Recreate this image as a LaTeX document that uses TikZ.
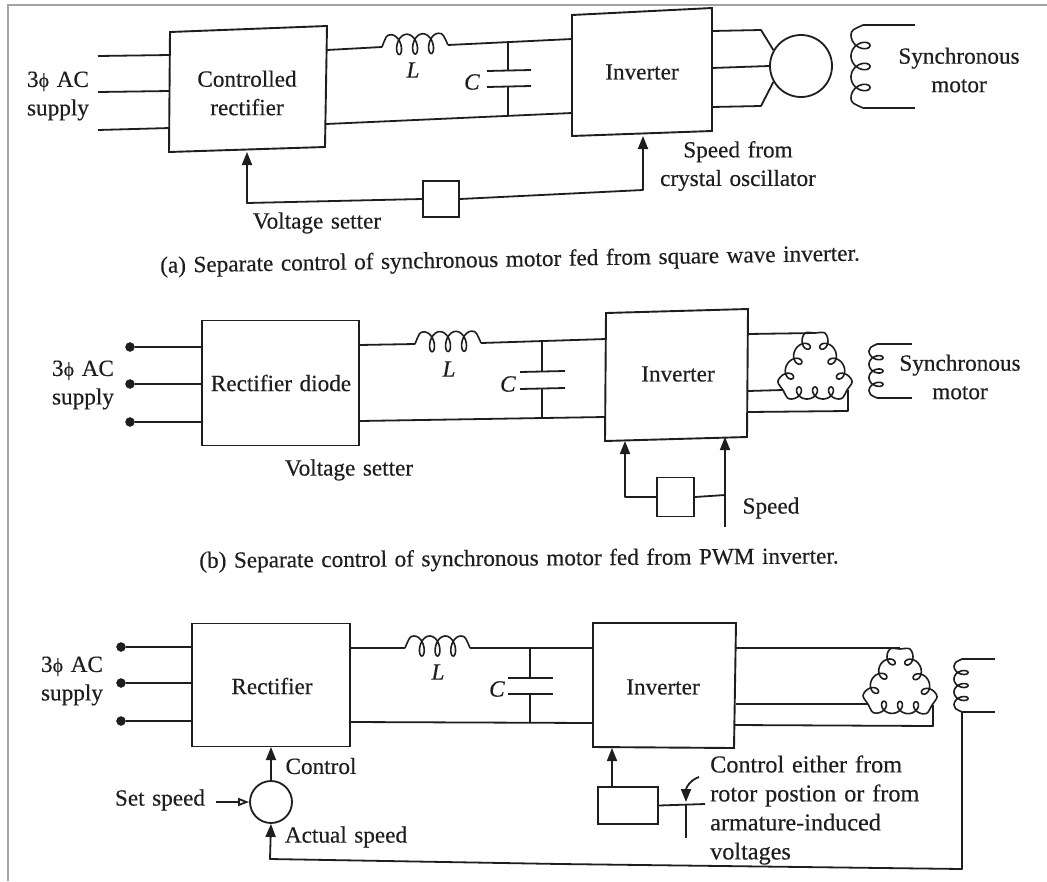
\documentclass[tikz,border=0pt]{standalone}
\usepackage{fontspec}
\setmainfont[WordSpace=1.3,FakeBold=0.35]{Liberation Serif}
\usetikzlibrary{arrows.meta,calc}
\definecolor{ink}{HTML}{1E1E1E}
\definecolor{framegray}{HTML}{A3A3A3}
\tikzset{
  wire/.style={draw=ink,line width=1.8pt,line join=round},
  boxline/.style={draw=ink,line width=1.9pt,line join=miter,fill=white},
  blk/.style={boxline,rectangle,inner sep=0pt},
  lbl/.style={text=ink,inner sep=0pt,font=\fontsize{23.2}{28.5}\selectfont,align=center},
  terminal/.style={circle,fill=ink,draw=ink,inner sep=0pt,minimum size=9pt},
  sumring/.style={circle,draw=ink,line width=1.8pt,inner sep=0pt,fill=white},
  tip/.style={-{Triangle[length=13pt,width=10pt]}},
  opentip/.style={-{Triangle[open,length=11pt,width=8pt,fill=white]}}
}
% \coilwire x1 y1 x2 y2 loops arch depth inset
\newcommand{\coilwire}[8]{%
  \pgfmathsetmacro{\cang}{atan2(-((#4)-(#2)),(#3)-(#1))}%
  \pgfmathsetmacro{\clen}{veclen((#3)-(#1),(#4)-(#2))}%
  \pgfmathsetmacro{\ca}{(\clen-2*(#8))/(2*pi*(#5))}%
  \pgfmathsetmacro{\cb}{2.3*\ca}%
  \pgfmathsetmacro{\cend}{2*pi*(#5)}%
  \pgfmathsetmacro{\cm}{((#6)-(#7))/2}%
  \pgfmathsetmacro{\cq}{((#6)+(#7))/2}%
  \begin{scope}[shift={(#1,#2)},rotate=\cang,x=1pt,y=1pt]
    \draw[wire,line width=1.6pt] (0,0) .. controls ({0.45*(#8)},{0.8*(#6)}) and ({0.5*(#8)},{#6}) .. ({#8},{#6})
      -- plot[domain=0:\cend,samples=120,variable=\u] ({(#8)+\ca*\u+\cb*sin(\u r)},{\cm+\cq*cos(\u r)})
      .. controls ({\clen-0.5*(#8)},{#6}) and ({\clen-0.45*(#8)},{0.8*(#6)}) .. (\clen,0);
  \end{scope}}
\newcommand{\threephase}{3{\fontsize{20}{20}\selectfont\char"03D5} AC}
\begin{document}
\begin{tikzpicture}[x=1pt,y=-1pt]
\useasboundingbox (0,0) rectangle (1047,881);
\fill[white] (0,0) rectangle (1047,881);
% page frame
\coordinate (fa) at (8,881); \coordinate (fb) at (8,5); \coordinate (fc) at (1047,5);
\draw[framegray,line width=2pt] (fa) -- (fb) -- (fc);

% ---------- (a) ----------
\coordinate (a1) at (170,32); \coordinate (a2) at (327,26); \coordinate (a3) at (325,147); \coordinate (a4) at (169,152);
\draw[boxline] (a1) -- (a2) -- (a3) -- (a4) -- cycle;
\node[lbl] (arect) at (247,93) {Controlled\\rectifier};
\coordinate (b1) at (572,15); \coordinate (b2) at (712,8); \coordinate (b3) at (712,131); \coordinate (b4) at (572,136);
\draw[boxline] (b1) -- (b2) -- (b3) -- (b4) -- cycle;
\node[lbl] (ainv) at (642,72) {Inverter};
\foreach \n/\xa/\ya/\yb in {1/98/56/55,2/98/92/91,3/98/130/128}{
  \coordinate (ai\n) at (\xa,\ya); \coordinate (aj\n) at (170,\yb);
  \draw[wire] (ai\n) -- (aj\n);}
\node[lbl] (asup) at (58,96) {\threephase\\supply};
\coordinate (aL0) at (327,50); \coordinate (aL1) at (382,47); \coordinate (aL2) at (448,45); \coordinate (aL3) at (572,39);
\draw[wire] (aL0) -- (aL1); \draw[wire] (aL2) -- (aL3);
\coilwire{382}{47}{448}{45}{3}{12}{8}{9}
\node[lbl] (aLl) at (413,70) {\textit{L}};
\coordinate (aB0) at (326,124); \coordinate (aB1) at (572,113);
\draw[wire] (aB0) -- (aB1);
\coordinate (aC0) at (508,42); \coordinate (aC1) at (508,71); \coordinate (aC2) at (508,87); \coordinate (aC3) at (508,116);
\draw[wire] (aC0) -- (aC1); \draw[wire] (aC2) -- (aC3);
\coordinate (aP1) at (487,71); \coordinate (aP2) at (531,70); \coordinate (aP3) at (487,87); \coordinate (aP4) at (531,86);
\draw[wire] (aP1) -- (aP2); \draw[wire] (aP3) -- (aP4);
\node[lbl] (aCl) at (472,82) {\textit{C}};
\node[blk,minimum width=36pt,minimum height=36pt] (aset) at (441,199) {};
\coordinate (afa) at (247,152); \coordinate (afb) at (247,203); \coordinate (afc) at (643,190); \coordinate (afd) at (643,136);
\draw[wire,tip] (aset.west) -- (afb) -- (afa);
\draw[wire,tip] (aset.east) -- (afc) -- (afd);
\node[lbl] (avs) at (317,223) {Voltage setter};
\node[lbl] (asp) at (738,166) {Speed from\\crystal oscillator};
\node[sumring,minimum size=62pt] (amot) at (801,66) {};
\coordinate (am1) at (712,31); \coordinate (am1b) at (761,30);
\coordinate (am2) at (712,68);
\coordinate (am3) at (712,107); \coordinate (am3b) at (761,106);
\draw[wire] (am1) -- (am1b) -- (amot.150);
\draw[wire] (am2) -- (amot.west);
\draw[wire] (am3) -- (am3b) -- (amot.210);
\coilwire{863}{108}{863}{25}{3}{12}{7}{10}
\coordinate (ac1) at (863,25); \coordinate (ac2) at (915,25); \coordinate (ac3) at (863,108); \coordinate (ac4) at (915,108);
\draw[wire] (ac1) -- (ac2); \draw[wire] (ac3) -- (ac4);
\node[lbl] (asm) at (959,70) {Synchronous\\motor};
\node[lbl,rotate=1] (acap) at (510,261) {(a) Separate control of synchronous motor fed from square wave inverter.};

% ---------- (b) ----------
\node[blk,minimum width=157pt,minimum height=125pt] (brect) at (280.5,383) {};
\node[lbl] (brl) at (281,383) {Rectifier diode};
\coordinate (i1) at (606,313); \coordinate (i2) at (748,309); \coordinate (i3) at (747,437); \coordinate (i4) at (605,441);
\draw[boxline] (i1) -- (i2) -- (i3) -- (i4) -- cycle;
\node[lbl] (binv) at (678,374) {Inverter};
\foreach \n/\yy in {1/347,2/384,3/422}{
  \node[terminal] (bt\n) at (130,\yy) {};
  \coordinate (bj\n) at (202,\yy);
  \draw[wire] (bt\n) -- (bj\n);}
\node[lbl] (bsup) at (83,385) {\threephase\\supply};
\coordinate (bL0) at (359,345); \coordinate (bL1) at (415,344); \coordinate (bL2) at (481,343); \coordinate (bL3) at (606,339);
\draw[wire] (bL0) -- (bL1); \draw[wire] (bL2) -- (bL3);
\coilwire{415}{344}{481}{343}{3}{12}{8}{9}
\node[lbl] (bLl) at (449,369) {\textit{L}};
\coordinate (bB0) at (360,421); \coordinate (bB1) at (605,417);
\draw[wire] (bB0) -- (bB1);
\coordinate (bC0) at (542,341); \coordinate (bC1) at (542,371); \coordinate (bC2) at (542,388); \coordinate (bC3) at (542,418);
\draw[wire] (bC0) -- (bC1); \draw[wire] (bC2) -- (bC3);
\coordinate (bP1) at (520,372); \coordinate (bP2) at (565,371); \coordinate (bP3) at (520,389); \coordinate (bP4) at (565,388);
\draw[wire] (bP1) -- (bP2); \draw[wire] (bP3) -- (bP4);
\node[lbl] (bCl) at (508,384) {\textit{C}};
\node[lbl] (bvs) at (349,470) {Voltage setter};
\node[blk,minimum width=37pt,minimum height=39pt] (bset) at (675.5,497) {};
\coordinate (bfa) at (625,441); \coordinate (bfb) at (625,497);
\draw[wire,tip] (bset.west) -- (bfb) -- (bfa);
\coordinate (bfc) at (725,527); \coordinate (bfd) at (725,437); \coordinate (bfe) at (725,495);
\draw[wire,tip] (bfc) -- (bfd);
\draw[wire] (bset.east) -- (bfe);
\node[lbl] (bspd) at (771,508) {Speed};
\coordinate (bm1) at (748,334); \coordinate (bm1b) at (815,333);
\coordinate (bm2) at (748,391); \coordinate (bm2b) at (783,390);
\coordinate (bm3) at (748,412); \coordinate (bm3b) at (848,411); \coordinate (bm3c) at (848,390);
\draw[wire] (bm1) -- (bm1b); \draw[wire] (bm2) -- (bm2b); \draw[wire] (bm3) -- (bm3b) -- (bm3c);
\coilwire{815}{333}{847}{390}{3}{9}{3}{7}
\coilwire{847}{390}{783}{390}{3}{9}{3}{8}
\coilwire{783}{390}{815}{333}{3}{9}{3}{7}
\coilwire{877}{398}{877}{344}{3}{8}{6}{7}
\coordinate (bc1) at (877,344); \coordinate (bc2) at (912,344); \coordinate (bc3) at (877,398); \coordinate (bc4) at (912,398);
\draw[wire] (bc1) -- (bc2); \draw[wire] (bc3) -- (bc4);
\node[lbl] (bsm) at (960,377) {Synchronous\\motor};
\node[lbl,rotate=0.4] (bcap) at (519,560) {(b) Separate control of synchronous motor fed from PWM inverter.};

% ---------- (c) ----------
\node[blk,minimum width=158pt,minimum height=123pt] (crect) at (271,685) {};
\node[lbl] (crl) at (272,686) {Rectifier};
\coordinate (k1) at (593,623); \coordinate (k2) at (736,623); \coordinate (k3) at (734,748); \coordinate (k4) at (593,747);
\draw[boxline] (k1) -- (k2) -- (k3) -- (k4) -- cycle;
\node[lbl] (cinv) at (663,687) {Inverter};
\foreach \n/\yy in {1/647,2/683,3/721}{
  \node[terminal] (ct\n) at (121,\yy) {};
  \coordinate (cj\n) at (192,\yy);
  \draw[wire] (ct\n) -- (cj\n);}
\node[lbl] (csup) at (72,681) {\threephase\\supply};
\coordinate (cL0) at (350,648); \coordinate (cL1) at (405,648); \coordinate (cL2) at (470,648); \coordinate (cL3) at (593,648);
\draw[wire] (cL0) -- (cL1); \draw[wire] (cL2) -- (cL3);
\coilwire{405}{648}{470}{648}{3}{12}{8}{9}
\node[lbl] (cLl) at (438,672) {\textit{L}};
\coordinate (cB0) at (351,722); \coordinate (cB1) at (593,723);
\draw[wire] (cB0) -- (cB1);
\coordinate (cC0) at (530,648); \coordinate (cC1) at (530,678); \coordinate (cC2) at (530,694); \coordinate (cC3) at (530,723);
\draw[wire] (cC0) -- (cC1); \draw[wire] (cC2) -- (cC3);
\coordinate (cP1) at (508,678); \coordinate (cP2) at (553,678); \coordinate (cP3) at (508,694); \coordinate (cP4) at (553,694);
\draw[wire] (cP1) -- (cP2); \draw[wire] (cP3) -- (cP4);
\node[lbl] (cCl) at (497,689) {\textit{C}};
\node[sumring,minimum size=42pt] (csum) at (271,802) {};
\coordinate (cu1) at (271,747);
\draw[wire,tip] (csum.north) -- (cu1);
\node[lbl] (ccon) at (321,766) {Control};
\node[lbl] (cset) at (160,800) {Set speed};
\coordinate (css) at (216,802);
\draw[wire,opentip] (css) -- (csum.west);
\node[lbl] (cact) at (346,837) {Actual speed};
\coordinate (cfa) at (962,712); \coordinate (cfb) at (962,869); \coordinate (cfc) at (560,864); \coordinate (cfd) at (270,859);
\draw[wire,tip] (cfa) -- (cfb) -- (cfc) -- (cfd) -- (csum.south);
\coordinate (cm1) at (736,648); \coordinate (cm1b) at (900,648);
\coordinate (cm2) at (736,704); \coordinate (cm2b) at (868,704);
\coordinate (cm3) at (735,725); \coordinate (cm3b) at (933,726); \coordinate (cm3c) at (933,705);
\draw[wire] (cm1) -- (cm1b); \draw[wire] (cm2) -- (cm2b); \draw[wire] (cm3) -- (cm3b) -- (cm3c);
\coilwire{900}{649}{932}{705}{3}{9}{3}{7}
\coilwire{932}{705}{868}{704}{3}{9}{3}{8}
\coilwire{868}{704}{900}{649}{3}{9}{3}{7}
\coilwire{962}{712}{962}{659}{3}{8}{6}{7}
\coordinate (cc1) at (962,659); \coordinate (cc2) at (995,659); \coordinate (cc4) at (995,712);
\draw[wire] (cc1) -- (cc2); \draw[wire] (cfa) -- (cc4);
\node[blk,minimum width=60pt,minimum height=37pt] (cctl) at (628,805.5) {};
\coordinate (cua) at (612,787); \coordinate (cub) at (612,748);
\draw[wire,tip] (cua) -- (cub);
\coordinate (cva) at (705,804); \coordinate (cvb) at (686,838); \coordinate (cvc) at (686,804);
\draw[wire] (cctl.east) -- (cva);
\draw[wire] (cvb) -- (cvc);
\coordinate (cwa) at (699,777);
\draw[wire,tip] (cwa) .. controls (690,780) and (686,788) .. (686,802);
\node[lbl,anchor=west,align=left,font=\fontsize{24.2}{29}\selectfont] (ctxt) at (710,810) {Control either from\\rotor postion or from\\armature-induced\\voltages};
\end{tikzpicture}
\end{document}
